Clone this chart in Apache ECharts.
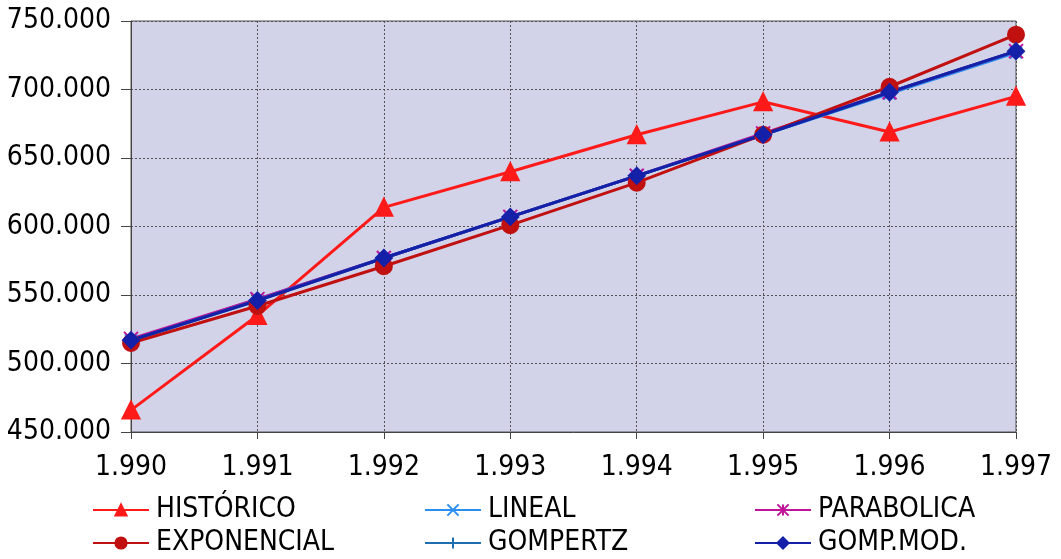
<!DOCTYPE html>
<html>
<head>
<meta charset="utf-8">
<script src="https://cdn.jsdelivr.net/npm/echarts@6/dist/echarts.min.js"></script>
<style>
  html, body { margin: 0; padding: 0; background: #fff; }
  #chart { width: 1061px; height: 559px; }
</style>
</head>
<body>
<div id="chart"></div>
<script>
// Years on the horizontal axis
const years = ['1.990', '1.991', '1.992', '1.993', '1.994', '1.995', '1.996', '1.997'];

// Historical values and fitted models
const historico   = [466000, 535000, 614000, 640000, 667000, 691000, 669000, 695000];
const lineal      = [517000, 547000, 577000, 607000, 637000, 667000, 697000, 727000];
const parabolica  = [518000, 547000, 577000, 607000, 637000, 668000, 698000, 728000];
const exponencial = [515000, 542000, 571000, 601000, 632000, 667000, 702000, 740000];
const gompertz    = [517000, 546000, 577000, 607000, 637000, 667000, 698000, 728000];
const gompMod     = [517000, 546000, 577000, 607000, 637000, 667000, 698000, 728000];

const FONT = '"DejaVu Sans Condensed", "DejaVu Sans", sans-serif';

const crossPath = 'path://M0,0 L10,10 M10,0 L0,10';
const plusPath = 'path://M5,0 L5,10 M0,5 L10,5';
const asteriskPath = 'path://M0,0 L10,10 M10,0 L0,10 M5,0 L5,10';

function fmt(v) {
  return String(v).replace(/\B(?=(\d{3})+(?!\d))/g, '.');
}

function lineSeries(name, data, color, symbol, size, extra) {
  return Object.assign({
    name: name,
    type: 'line',
    data: data,
    symbol: symbol,
    symbolSize: size,
    showAllSymbol: true,
    lineStyle: { color: color, width: 3 },
    itemStyle: { color: color, borderColor: color, borderWidth: 2 },
    emphasis: { disabled: true },
    animation: false
  }, extra || {});
}

// One legend entry per slot: two rows, three columns
function legendItem(name, left, top) {
  return {
    left: left,
    top: top,
    padding: 0,
    itemWidth: 56,
    itemHeight: 14,
    itemGap: 0,
    textStyle: { fontFamily: FONT, fontSize: 28, color: '#000', padding: [0, 0, 0, 2] },
    selectedMode: false,
    data: [name]
  };
}

const chart = echarts.init(document.getElementById('chart'), null, { renderer: 'canvas' });

chart.setOption({
  backgroundColor: '#fff',
  grid: {
    left: 131, right: 45, top: 21, bottom: 127,
    show: true,
    backgroundColor: '#d2d2e8',
    borderColor: '#555',
    borderWidth: 1
  },
  legend: [
    legendItem('HISTÓRICO', 92, 496),
    legendItem('EXPONENCIAL', 92, 529),
    legendItem('LINEAL', 424, 496),
    legendItem('GOMPERTZ', 424, 529),
    legendItem('PARABOLICA', 754, 496),
    legendItem('GOMP.MOD.', 754, 529)
  ],
  xAxis: {
    type: 'category',
    data: years,
    boundaryGap: false,
    axisLine: { lineStyle: { color: '#444', width: 1 } },
    axisTick: { show: true, length: 7, lineStyle: { color: '#444' } },
    axisLabel: { fontFamily: FONT, fontSize: 28, color: '#000', margin: 22 },
    splitLine: { show: true, lineStyle: { color: '#555', width: 1, type: [2, 2] } }
  },
  yAxis: {
    type: 'value',
    min: 450000,
    max: 750000,
    interval: 50000,
    axisLine: { show: true, lineStyle: { color: '#444', width: 1 } },
    axisTick: { show: true, length: 10, lineStyle: { color: '#444' } },
    axisLabel: { fontFamily: FONT, fontSize: 28, color: '#000', margin: 20, formatter: fmt },
    splitLine: { show: true, lineStyle: { color: '#555', width: 1, type: [2, 2] } }
  },
  series: [
    lineSeries('HISTÓRICO', historico, '#ff1a1a', 'triangle', 17),
    lineSeries('LINEAL', lineal, '#2a8ef0', crossPath, 12,
      { itemStyle: { color: 'none', borderColor: '#2a8ef0', borderWidth: 2 } }),
    lineSeries('PARABOLICA', parabolica, '#c0149a', asteriskPath, 14,
      { itemStyle: { color: 'none', borderColor: '#c0149a', borderWidth: 2 } }),
    lineSeries('GOMPERTZ', gompertz, '#1f6fb0', plusPath, 14,
      { itemStyle: { color: 'none', borderColor: '#1f6fb0', borderWidth: 2 } }),
    lineSeries('EXPONENCIAL', exponencial, '#c01010', 'circle', 16),
    lineSeries('GOMP.MOD.', gompMod, '#1420a8', 'diamond', 16)
  ]
});
</script>
</body>
</html>
